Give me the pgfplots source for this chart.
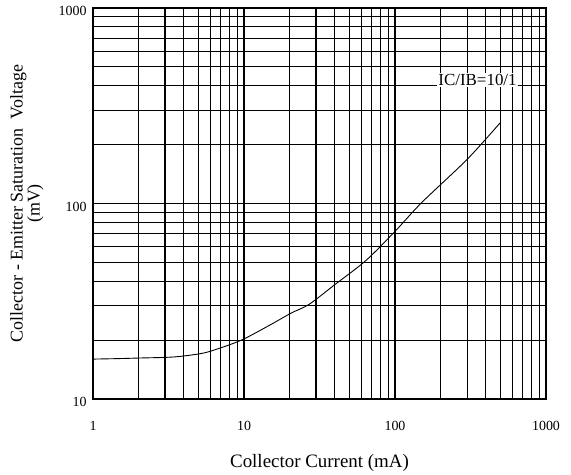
\documentclass[border=0pt]{standalone}
\usepackage{fontspec}
\setmainfont{Liberation Serif}
\usepackage{pgfplots}
\pgfplotsset{compat=1.18}
\begin{document}
\begin{tikzpicture}[x=1bp,y=1bp]
\begin{axis}[
  scale only axis,
  width=453bp, height=391bp,
  xmode=log, ymode=log,
  xmin=1, xmax=1000, ymin=10, ymax=1000,
  xtick={1,10,100,1000}, xticklabels={1,10,100,1000},
  ytick={10,100,1000}, yticklabels={10,100,1000},
  /pgf/number format/assume math mode=true,
  major tick length=0pt, minor tick length=0pt,
  grid=both,
  major grid style={black, line width=1.1bp},
  minor grid style={black, line width=1.1bp},
  axis line style={black, line width=1.1bp},
  tick label style={font=\fontsize{14}{14}\selectfont},
  xticklabel style={yshift=-19bp},
  yticklabel style={xshift=-3bp, yshift=-3bp},
  xlabel={Collector Current (mA)},
  xlabel style={at={(axis description cs:0.5,-0.1637)}, anchor=center, font=\fontsize{19}{19}\selectfont},
  ylabel={Collector - Emitter Saturation\ \ Voltage\\(mV)},
  ylabel style={at={(axis description cs:-0.1015,0.5)}, rotate=0, anchor=south, align=center, font=\fontsize{18}{17}\selectfont},
]
\addplot[black, line width=0.9bp, smooth] coordinates {
(1,16.0) (1.5,16.1) (2,16.2) (3.4,16.4) (5,17.0) (6.2,17.7) (9.6,20.0)
(15,24.0) (20.5,27.5) (27,30.5) (40,38.5) (64,51) (100,72) (150,101)
(300,168) (500,260)
};
\node[fill=white, inner sep=1.5bp, font=\fontsize{17}{17}\selectfont] at (axis cs:352,428) {IC/IB=10/1};
\end{axis}
\path ([xshift=-93bp,yshift=-76bp]current axis.south west) rectangle ([xshift=25bp,yshift=8bp]current axis.north east);
\end{tikzpicture}
\end{document}
